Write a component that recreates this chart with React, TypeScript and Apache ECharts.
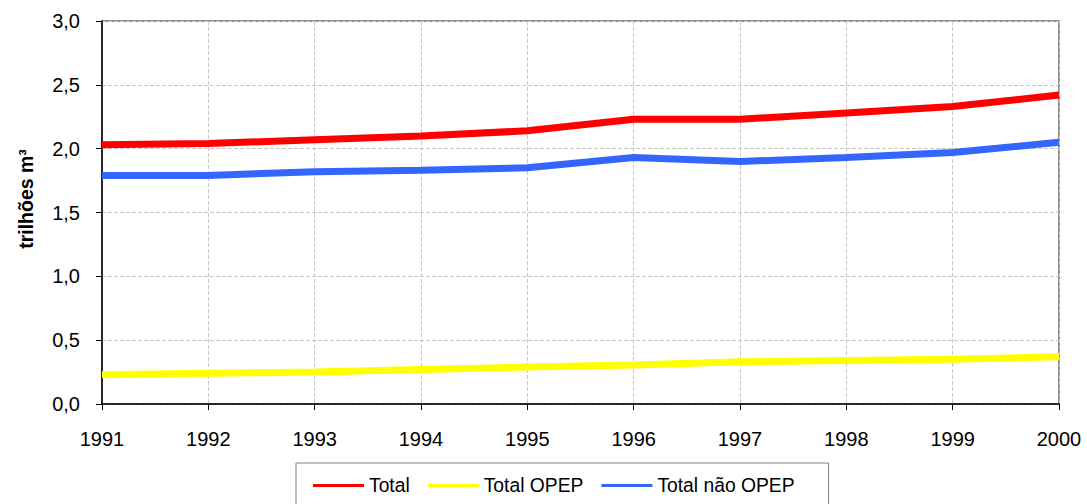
import React, { useEffect, useRef } from "react";
import * as echarts from "echarts";

const years = ["1991", "1992", "1993", "1994", "1995", "1996", "1997", "1998", "1999", "2000"];
const total = [2.03, 2.04, 2.07, 2.1, 2.14, 2.23, 2.23, 2.28, 2.33, 2.42];
const totalOpep = [0.23, 0.24, 0.25, 0.27, 0.29, 0.305, 0.33, 0.34, 0.35, 0.37];
const totalNaoOpep = [1.79, 1.79, 1.82, 1.83, 1.85, 1.93, 1.9, 1.93, 1.97, 2.05];
const yAxisName = "trilhões m³";

const FONT = "'Liberation Sans', Arial, sans-serif";

export default function App() {
  const ref = useRef<HTMLDivElement>(null);
  useEffect(() => {
    if (!ref.current) return;
    const chart = echarts.init(ref.current, null, { renderer: "svg" });
    const mk = (name: string, data: number[], color: string) => ({
      name,
      type: "line",
      data,
      symbol: "none",
      lineStyle: { color, width: 7 },
      itemStyle: { color },
      z: 3,
    });
    chart.setOption({
      animation: false,
      backgroundColor: "#ffffff",
      textStyle: { fontFamily: FONT },
      grid: {
        left: 102,
        right: 28,
        top: 21,
        bottom: 100,
        show: true,
        borderColor: "#8c8c8c",
        borderWidth: 2,
        backgroundColor: "transparent",
      },
      graphic: [
        {
          type: "text",
          x: 26,
          y: 199,
          rotation: Math.PI / 2,
          style: {
            text: yAxisName,
            font: `bold 19.5px ${FONT}`,
            fill: "#000",
            textAlign: "center",
            textVerticalAlign: "middle",
          },
        },
      ],
      legend: {
        left: 296,
        top: 463,
        padding: [13, 34, 13, 17],
        borderColor: "#7f7f7f",
        borderWidth: 1,
        itemWidth: 51,
        itemHeight: 3,
        itemGap: 18,
        icon: "rect",
        textStyle: { fontSize: 19.3, color: "#000", fontFamily: FONT, padding: [0, 0, 0, 0] },
        data: ["Total", "Total OPEP", "Total não OPEP"],
      },
      xAxis: {
        type: "category",
        data: years,
        boundaryGap: false,
        axisLine: { lineStyle: { color: "#000", width: 1.5 } },
        axisTick: { show: true, length: 6, lineStyle: { color: "#000" } },
        axisLabel: { fontSize: 20, color: "#000", margin: 25, fontFamily: FONT },
        splitLine: { show: true, lineStyle: { color: "#c8c8c8", type: "dashed", width: 1 } },
      },
      yAxis: {
        type: "value",
        min: 0,
        max: 3,
        interval: 0.5,
        axisLine: { show: true, lineStyle: { color: "#000", width: 1.5 } },
        axisTick: { show: true, length: 6, lineStyle: { color: "#000" } },
        axisLabel: {
          fontSize: 20,
          color: "#000",
          margin: 22,
          fontFamily: FONT,
          formatter: (v: number) => v.toFixed(1).replace(".", ","),
        },
        splitLine: { show: true, lineStyle: { color: "#c8c8c8", type: "dashed", width: 1 } },
      },
      series: [
        mk("Total", total, "#ff0000"),
        mk("Total OPEP", totalOpep, "#ffff00"),
        mk("Total não OPEP", totalNaoOpep, "#3366ff"),
      ],
    });
    return () => chart.dispose();
  }, []);
  return (
    <div
      ref={ref}
      style={{ position: "fixed", left: 0, top: 0, width: 1087, height: 504 }}
    />
  );
}
